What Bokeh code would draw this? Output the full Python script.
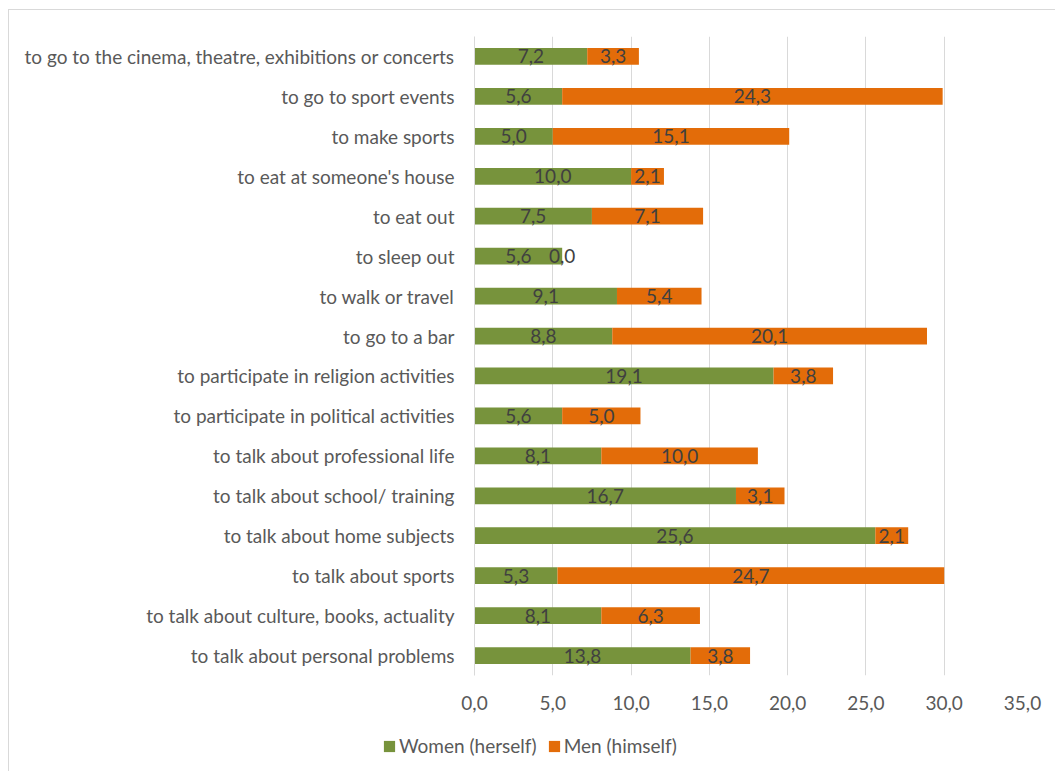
from bokeh.plotting import figure
from bokeh.models import ColumnDataSource, FactorRange, Range1d, Legend, LegendItem, FixedTicker
from bokeh.core.properties import value
from bokeh.embed import file_html
from bokeh.resources import INLINE

categories = [
    "to go to the cinema, theatre, exhibitions or concerts",
    "to go to sport events",
    "to make sports",
    "to eat at someone's house",
    "to eat out",
    "to sleep out",
    "to walk or travel",
    "to go to a bar",
    "to participate in religion activities",
    "to participate in political activities",
    "to talk about professional life",
    "to talk about school/ training",
    "to talk about home subjects",
    "to talk about sports",
    "to talk about culture, books, actuality",
    "to talk about personal problems",
]
women = [7.2, 5.6, 5.0, 10.0, 7.5, 5.6, 9.1, 8.8, 19.1, 5.6, 8.1, 16.7, 25.6, 5.3, 8.1, 13.8]
men = [3.3, 24.3, 15.1, 2.1, 7.1, 0.0, 5.4, 20.1, 3.8, 5.0, 10.0, 3.1, 2.1, 24.7, 6.3, 3.8]
series_names = ["Women (herself)", "Men (himself)"]
ticks = [0, 5, 10, 15, 20, 25, 30, 35]
tick_labels = ["0,0", "5,0", "10,0", "15,0", "20,0", "25,0", "30,0", "35,0"]

GREEN = "#77933C"
ORANGE = "#E36C09"
FONT = "Lato"
FS = "19px"


def fmt(v):
    return f"{v:.1f}".replace(".", ",")


src = ColumnDataSource(dict(cat=categories, women=women, men=men))

lab_x = [w / 2 for w in women] + [w + m / 2 for w, m in zip(women, men)]
lab_y = categories + categories
lab_t = [fmt(w) for w in women] + [fmt(m) for m in men]
lab_src = ColumnDataSource(dict(x=lab_x, y=lab_y, t=lab_t))

p = figure(
    y_range=FactorRange(*categories[::-1]),
    x_range=Range1d(0, 35),
    width=1047, height=725,
    output_backend="svg", toolbar_location=None,
    min_border_left=465, min_border_top=26, min_border_right=34, min_border_bottom=60,
    styles={"margin-left": "8px", "margin-top": "9px",
            "border-top": "1px solid #d9d9d9", "border-left": "1px solid #d9d9d9"},
)
p.outline_line_color = None
p.background_fill_color = "white"

rs = p.hbar_stack(["women", "men"], y="cat", height=0.42, color=[GREEN, ORANGE],
                  line_color=None, source=src)

p.text(x="x", y="y", text="t", source=lab_src, text_align="center", text_baseline="middle",
       text_font=value(FONT), text_font_size=FS, text_color="#404040")

p.xgrid.grid_line_color = "#d9d9d9"
p.ygrid.grid_line_color = None

xa = p.xaxis[0]
xa.ticker = FixedTicker(ticks=ticks)
xa.major_label_overrides = dict(zip(ticks, tick_labels))
xa.axis_line_color = None
xa.major_tick_line_color = None
xa.minor_tick_line_color = None
xa.major_label_text_font = FONT
xa.major_label_text_font_size = FS
xa.major_label_text_color = "#595959"
xa.major_label_standoff = 14

ya = p.yaxis[0]
ya.axis_line_color = "#d9d9d9"
ya.major_tick_line_color = None
ya.minor_tick_line_color = None
ya.major_label_text_font = FONT
ya.major_label_text_font_size = FS
ya.major_label_text_color = "#595959"
ya.major_label_standoff = 14

# legend strip below the chart (its bars lie outside its visible x range)
p2 = figure(width=1047, height=37, x_range=Range1d(-2, -1),
            y_range=FactorRange(*categories[::-1]),
            output_backend="svg", toolbar_location=None,
            x_axis_location=None, y_axis_location=None, min_border=0,
            styles={"margin-left": "8px", "border-left": "1px solid #d9d9d9"})
p2.outline_line_color = None
p2.grid.visible = False
rs2 = p2.hbar_stack(["women", "men"], y="cat", height=0.42, color=[GREEN, ORANGE],
                    line_color=None, source=src)

legend = Legend(
    items=[LegendItem(label=series_names[0], renderers=[rs2[0]]),
           LegendItem(label=series_names[1], renderers=[rs2[1]])],
    orientation="horizontal", location=(373, 14),
    border_line_color=None, background_fill_alpha=0,
    glyph_width=14, glyph_height=14, label_standoff=3, spacing=10,
    padding=0, margin=0,
    label_text_font=FONT, label_text_font_size=FS, label_text_color="#595959",
)
p2.add_layout(legend)

open("out.html", "w").write(file_html([p, p2], INLINE))
